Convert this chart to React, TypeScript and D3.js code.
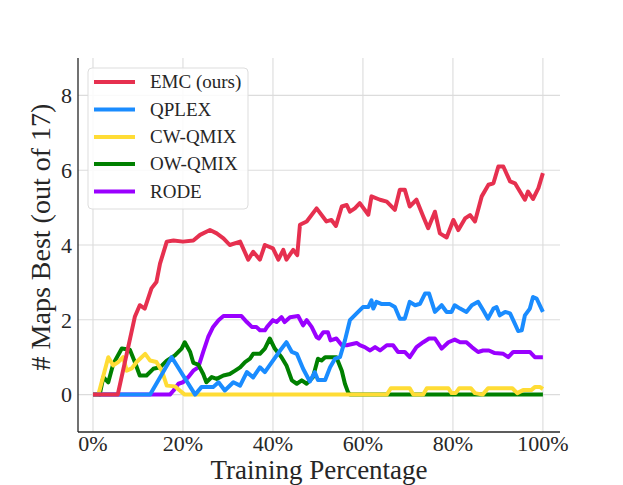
import React from "react";
import * as d3 from "d3";

type Pt = [number, number];

const emc: Pt[] = [[0,0],[5.5,0],[7.5,1.09],[9.3,2.08],[10.4,2.39],[11.5,2.3],[13,2.84],[14.1,3.01],[14.9,3.5],[16.4,4.09],[17.9,4.12],[20,4.09],[22.3,4.12],[23.8,4.27],[26,4.4],[27.5,4.31],[29,4.18],[30.4,4.0],[32.7,4.09],[34.5,3.61],[35.6,3.82],[37.1,3.61],[38.2,4.0],[40,3.91],[41.2,3.61],[42.3,3.87],[43,3.61],[44.5,3.87],[45.4,3.73],[46,4.54],[47.5,4.63],[49.7,4.98],[51.9,4.63],[53,4.67],[54,4.51],[55.3,5.03],[56.4,5.07],[57.1,4.89],[58.2,4.98],[59.3,5.12],[61.2,4.81],[61.9,5.3],[63.8,5.21],[65.3,5.16],[67.1,4.94],[68.2,5.48],[69.3,5.48],[70.4,5.03],[71.9,5.21],[73.4,4.76],[74.5,4.45],[76,4.89],[77.1,4.31],[78.6,4.2],[80.1,4.67],[81.2,4.4],[82.7,4.71],[83.8,4.8],[84.9,4.63],[86.4,5.3],[87.9,5.61],[89,5.65],[90.1,6.1],[91.2,6.1],[92.7,5.7],[93.8,5.65],[94.9,5.43],[96,5.21],[96.7,5.43],[97.8,5.23],[99,5.52],[100,5.92]];

const qplex: Pt[] = [[0,0],[12.7,0],[17.5,1.0],[22.7,0],[24.1,0.2],[26.7,0.2],[27.9,0.33],[29.3,0.11],[31.2,0.33],[32.7,0.24],[34.2,0.6],[35.6,0.46],[37.1,0.73],[38.2,0.6],[40,0.91],[41.6,1.18],[43,1.4],[44.2,1.14],[45.3,1.09],[46.7,0.69],[48.2,0.35],[49.3,0.6],[50,0.39],[51.6,0.39],[52.7,0.73],[53.8,0.96],[54.9,1.0],[56,1.45],[57.1,1.99],[58.6,2.17],[60,2.34],[61.2,2.34],[61.9,2.52],[62.3,2.3],[63,2.48],[64.2,2.42],[66,2.42],[67.1,2.34],[68.2,2.03],[69.3,2.03],[70.4,2.48],[71.6,2.39],[72.7,2.43],[73.8,2.7],[74.7,2.7],[76,2.21],[77.5,2.39],[78.6,2.21],[79.7,2.21],[80.4,2.39],[81.6,2.3],[83,2.21],[84.2,2.39],[85.6,2.48],[86.7,2.26],[87.8,2.03],[89,2.3],[89.7,2.34],[90.4,2.12],[91.6,2.21],[92.7,2.17],[93.4,1.99],[94.5,1.7],[95.3,1.72],[96,2.12],[97.1,2.3],[97.8,2.61],[98.6,2.57],[100,2.21]];

const cwqmix: Pt[] = [[0,0],[1.2,0],[3.4,1.0],[4.5,0.78],[5.6,0.87],[6.7,1.0],[7.5,0.64],[8.6,0.7],[9.7,0.87],[11.6,1.09],[12.7,0.91],[14.1,0.87],[15.3,0.64],[16.4,0.24],[18.2,0.22],[19.3,0.11],[20.4,0],[65.3,0],[66.2,0.17],[70.4,0.17],[71.2,0],[73.4,0],[74.2,0.17],[79,0.17],[79.7,0.04],[80.6,0.04],[81.4,0.17],[84,0.17],[84.9,0.04],[86.6,0],[87.8,0.17],[93.2,0.17],[94.3,0.04],[95.6,0.12],[97.4,0.12],[98.2,0.2],[99.4,0.2],[100,0.15]];

const owqmix: Pt[] = [[0,0],[1.5,0],[2.3,0.47],[3.4,0.33],[4.5,0.82],[6.4,1.23],[8.2,1.2],[9.3,0.87],[10.4,0.51],[11.9,0.51],[13.4,0.69],[14.9,0.73],[16.4,0.91],[18.2,1.05],[19.7,1.23],[20.4,1.4],[21.6,1.14],[22.3,0.85],[23.4,0.8],[24.5,0.55],[25.2,0.33],[26.4,0.47],[27.5,0.42],[29,0.51],[30.4,0.55],[31.6,0.64],[32.7,0.73],[33.8,0.87],[34.9,0.96],[35.6,1.09],[37.1,1.09],[38.2,1.23],[39.3,1.5],[40.4,1.23],[41.9,1.0],[43,0.78],[44.2,0.38],[45.3,0.29],[46.4,0.38],[47.5,0.29],[48.9,0.47],[50,0.96],[50.8,0.91],[51.6,1.0],[54.1,1.0],[55.3,0.64],[56,0.29],[56.7,0.06],[57.1,0],[100,0]];

const rode: Pt[] = [[0,0],[17.1,0],[17.9,0.11],[19,0.29],[20,0.33],[21.2,0.47],[22.3,0.64],[23.4,0.73],[24.5,1.14],[25.6,1.54],[26.7,1.81],[27.9,1.99],[29,2.1],[33,2.1],[34.2,1.94],[35.3,1.81],[36.3,1.81],[37.1,1.72],[38.2,1.72],[38.7,1.81],[40,1.99],[40.8,1.94],[41.9,2.07],[42.6,1.94],[43.8,2.07],[45.6,2.1],[46.7,1.85],[47.5,1.99],[48.6,1.81],[49.7,1.54],[50.2,1.5],[51.2,1.67],[52.2,1.67],[52.8,1.45],[54.1,1.5],[55.3,1.32],[56.4,1.32],[58.6,1.38],[59.3,1.32],[60.4,1.27],[61.6,1.18],[62.7,1.27],[63.8,1.18],[65.3,1.32],[66.7,1.32],[67.8,1.14],[69.3,1.14],[70.4,1.0],[71.9,1.27],[73.4,1.4],[74.7,1.5],[76,1.5],[77.5,1.23],[79,1.4],[80.4,1.47],[81.6,1.4],[83,1.4],[84.2,1.27],[85.6,1.14],[86.7,1.18],[88,1.18],[89.3,1.11],[91.2,1.09],[92.3,1.0],[93.4,1.14],[97.1,1.14],[98.2,1.0],[100,1.0]];

const seriesNames = ["EMC (ours)", "QPLEX", "CW-QMIX", "OW-QMIX", "RODE"];
const seriesColors = ["#e6304f", "#1a8cff", "#ffdc35", "#008000", "#9a00ff"];
const seriesData = [emc, qplex, cwqmix, owqmix, rode];

const xTicks = [0, 20, 40, 60, 80, 100];
const yTicks = [0, 2, 4, 6, 8];

const W = 623, H = 485;
const L = 78, R = 560, T = 58, B = 432;
const FONT = "'Liberation Serif', 'Times New Roman', Times, serif";

export default function App() {
  const x = d3.scaleLinear().domain([-3.33, 103.8]).range([L, R]);
  const y = d3.scaleLinear().domain([-1, 9]).range([B, T]);
  const line = d3.line<Pt>().x(d => x(d[0])).y(d => y(d[1]));
  const order = [4, 3, 2, 1, 0];
  const legendRows = [82, 109.5, 137, 164, 191.5];
  const txt = { fontFamily: FONT, fill: "#262626" } as React.CSSProperties;
  return (
    <svg width={W} height={H} style={{ position: "absolute", left: 0, top: 0, background: "#fff" }}>
      <rect x={0} y={0} width={W} height={H} fill="#fff" />
      <g>
        {xTicks.map(t => (
          <line key={"gx" + t} x1={x(t)} x2={x(t)} y1={T} y2={B} stroke="#dcdcdc" strokeWidth={1.1} />
        ))}
        {yTicks.map(t => (
          <line key={"gy" + t} x1={L} x2={R} y1={y(t)} y2={y(t)} stroke="#dcdcdc" strokeWidth={1.1} />
        ))}
      </g>
      <g>
        {order.map(i => (
          <path key={i} d={line(seriesData[i]) || ""} fill="none" stroke={seriesColors[i]}
            strokeWidth={4} strokeLinejoin="round" strokeLinecap="butt" />
        ))}
      </g>
      <line x1={L} x2={L} y1={T} y2={B} stroke="#262626" strokeWidth={1.3} />
      <line x1={L} x2={R} y1={B} y2={B} stroke="#262626" strokeWidth={1.3} />
      <g>
        {xTicks.map(t => (
          <text key={"tx" + t} x={x(t)} y={451} textAnchor="middle" style={{ ...txt, fontSize: 22 }}>{t + "%"}</text>
        ))}
        {yTicks.map(t => (
          <text key={"ty" + t} x={72} y={y(t)} dy="0.35em" textAnchor="end" style={{ ...txt, fontSize: 22 }}>{t}</text>
        ))}
      </g>
      <text x={(L + R) / 2} y={479} textAnchor="middle" style={{ ...txt, fontSize: 27 }}>Training Percentage</text>
      <text transform={`translate(50, ${(T + B) / 2 - 8}) rotate(-90)`} textAnchor="middle" style={{ ...txt, fontSize: 28 }}>
        # Maps Best (out of 17)
      </text>
      <g>
        <rect x={88} y={68} width={160} height={141} rx={4} fill="#fff" fillOpacity={0.85} stroke="#dddddd" strokeWidth={1} />
        {seriesNames.map((n, i) => (
          <g key={n}>
            <line x1={94} x2={135} y1={legendRows[i]} y2={legendRows[i]} stroke={seriesColors[i]} strokeWidth={4} />
            <text x={150} y={legendRows[i]} dy="0.34em" style={{ ...txt, fontSize: 19 }}>{n}</text>
          </g>
        ))}
      </g>
    </svg>
  );
}
